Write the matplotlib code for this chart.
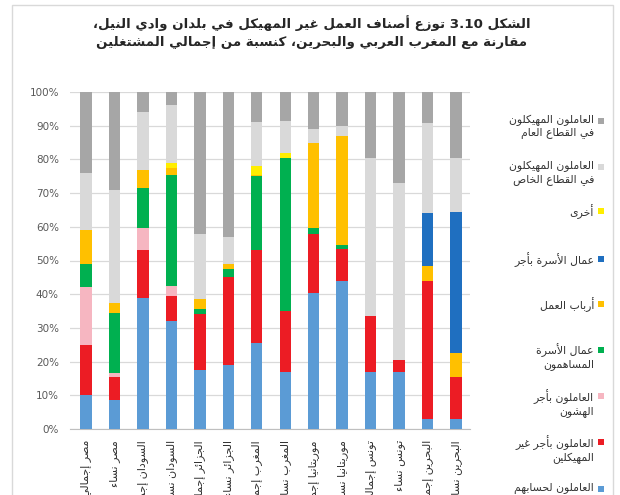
import re
import numpy as np
import matplotlib
matplotlib.use("Agg")
import matplotlib.pyplot as plt
from matplotlib.patches import Rectangle

# ---------------- simple Arabic shaping (presentation forms + visual order) -------------
_tbl = [('\u0621', 0xFE80, 1), ('\u0622', 0xFE81, 2), ('\u0623', 0xFE83, 2), ('\u0624', 0xFE85, 2),
        ('\u0625', 0xFE87, 2), ('\u0626', 0xFE89, 4), ('\u0627', 0xFE8D, 2), ('\u0628', 0xFE8F, 4),
        ('\u0629', 0xFE93, 2), ('\u062A', 0xFE95, 4), ('\u062B', 0xFE99, 4), ('\u062C', 0xFE9D, 4),
        ('\u062D', 0xFEA1, 4), ('\u062E', 0xFEA5, 4), ('\u062F', 0xFEA9, 2), ('\u0630', 0xFEAB, 2),
        ('\u0631', 0xFEAD, 2), ('\u0632', 0xFEAF, 2), ('\u0633', 0xFEB1, 4), ('\u0634', 0xFEB5, 4),
        ('\u0635', 0xFEB9, 4), ('\u0636', 0xFEBD, 4), ('\u0637', 0xFEC1, 4), ('\u0638', 0xFEC5, 4),
        ('\u0639', 0xFEC9, 4), ('\u063A', 0xFECD, 4), ('\u0641', 0xFED1, 4), ('\u0642', 0xFED5, 4),
        ('\u0643', 0xFED9, 4), ('\u0644', 0xFEDD, 4), ('\u0645', 0xFEE1, 4), ('\u0646', 0xFEE5, 4),
        ('\u0647', 0xFEE9, 4), ('\u0648', 0xFEED, 2), ('\u0649', 0xFEEF, 2), ('\u064A', 0xFEF1, 4)]
FORMS = {c: tuple(chr(b + k) for k in range(n)) for c, b, n in _tbl}
LAMALEF = {'\u0622': 0xFEF5, '\u0623': 0xFEF7, '\u0625': 0xFEF9, '\u0627': 0xFEFB}


def _dual(c):
    return c in FORMS and len(FORMS[c]) == 4


def _joinable(c):
    return c in FORMS and len(FORMS[c]) >= 2


def _shape_line(s):
    chars = [ch for ch in s if not ('\u064B' <= ch <= '\u0652')]
    n = len(chars)
    res = []
    i = 0
    while i < n:
        c = chars[i]
        prev = chars[i - 1] if i > 0 else ''
        jp = _joinable(c) and _dual(prev)
        if c == '\u0644' and i + 1 < n and chars[i + 1] in LAMALEF:
            base = LAMALEF[chars[i + 1]]
            res.append(chr(base + 1) if jp else chr(base))
            i += 2
            continue
        if c in FORMS:
            f = FORMS[c]
            nxt = chars[i + 1] if i + 1 < n else ''
            jn = _dual(c) and _joinable(nxt)
            if len(f) == 4:
                idx = {(False, False): 0, (True, False): 1, (False, True): 2, (True, True): 3}[(jp, jn)]
            elif len(f) == 2:
                idx = 1 if jp else 0
            else:
                idx = 0
            res.append(f[idx])
        else:
            res.append(c)
        i += 1
    vis = ''.join(res)[::-1]
    vis = re.sub(r'[0-9A-Za-z.%]+', lambda m: m.group(0)[::-1], vis)
    return vis


def ar(s):
    return '\n'.join(_shape_line(l) for l in s.split('\n'))


# ---------------- data -------------------------------------------------------------------
categories = ["مصر إجمالي", "مصر نساء", "السودان إجمالي", "السودان نساء",
              "الجزائر إجمالي", "الجزائر نساء", "المغرب إجمالي", "المغرب نساء",
              "موريتانيا إجمالي", "موريتانيا نساء", "تونس إجمالي", "تونس نساء",
              "البحرين إجمالي", "البحرين نساء"]

# stacked from bottom to top
own_account = [10, 8.5, 39, 32, 17.5, 19, 25.5, 17, 40.5, 44, 17, 17, 3, 3]
wage_informal = [15, 7, 14, 7.5, 16.5, 26, 27.5, 18, 17.5, 9.5, 16.5, 3.5, 41, 12.5]
wage_vulnerable = [17, 1, 6.5, 3, 0, 0, 0, 0, 0, 0, 0, 0, 0, 0]
family_contrib = [7, 18, 12, 33, 1.5, 2.5, 22, 45.5, 1.5, 1, 0, 0, 0, 0]
employers = [10, 3, 5.5, 2, 3, 1.5, 0.5, 0, 25.5, 32.5, 0, 0, 4.5, 7]
family_paid = [0, 0, 0, 0, 0, 0, 0, 0, 0, 0, 0, 0, 15.5, 42]
other = [0, 0, 0, 1.5, 0, 0, 2.5, 1.5, 0, 0, 0, 0, 0, 0]
formal_private = [17, 33.5, 17, 17, 19.5, 8, 13, 9.5, 4, 3, 47, 52.5, 26.7, 16]
formal_public = [24, 29, 6, 4, 42, 43, 9, 9, 11, 10, 19.5, 27, 9.3, 19.5]

series_labels = ["العاملون لحسابهم", "العاملون بأجر غير\nالمهيكلين", "العاملون بأجر\nالهشون",
                 "عمال الأسرة\nالمساهمون", "أرباب العمل", "عمال الأسرة بأجر", "أخرى",
                 "العاملون المهيكلون\nفي القطاع الخاص", "العاملون المهيكلون\nفي القطاع العام"]
series_values = [own_account, wage_informal, wage_vulnerable, family_contrib, employers,
                 family_paid, other, formal_private, formal_public]
colors = ["#5B9BD5", "#EC1C24", "#F6B6C1", "#00B050", "#FFC000",
          "#1F6FC0", "#FFEE00", "#D9D9D9", "#A6A6A6"]

yticks = [0, 10, 20, 30, 40, 50, 60, 70, 80, 90, 100]
ytick_labels = [f"{v}%" for v in yticks]

title = "الشكل 3.10 توزع أصناف العمل غير المهيكل في بلدان وادي النيل،\nمقارنة مع المغرب العربي والبحرين، كنسبة من إجمالي المشتغلين"

# ---------------- figure -----------------------------------------------------------------
plt.rcParams['font.family'] = ['DejaVu Sans']
W, H = 620, 495
fig = plt.figure(figsize=(W / 100, H / 100), dpi=100)
fig.patch.set_facecolor("white")

# outer frame
fig.add_artist(Rectangle((12 / W, -0.1), (613 - 12) / W, (H - 5) / H + 0.1, transform=fig.transFigure,
                         fill=False, edgecolor="#D9D9D9", linewidth=1.0))

ax = fig.add_axes([70 / W, (H - 429) / H, 400 / W, (429 - 92) / H])
x = np.arange(len(categories))
bottom = np.zeros(len(categories))
for vals, col in zip(series_values, colors):
    v = np.array(vals, dtype=float)
    ax.bar(x, v, bottom=bottom, width=0.4, color=col, linewidth=0, zorder=3)
    bottom += v

ax.set_ylim(0, 100)
ax.set_xlim(-0.562, 13.49)
ax.set_yticks(yticks)
ax.set_yticklabels(ytick_labels, fontsize=7.5, color="#595959")
ax.yaxis.grid(True, color="#D9D9D9", linewidth=0.9, zorder=0)
ax.set_axisbelow(True)
for s in ["top", "right", "left"]:
    ax.spines[s].set_visible(False)
ax.spines["bottom"].set_color("#BFBFBF")
ax.tick_params(axis="both", length=0)
ax.tick_params(axis="y", pad=8)
ax.set_xticks(x)
ax.set_xticklabels([ar(c) for c in categories], rotation=90, fontsize=8, color="#333333",
                   va="top", ha="center")
ax.tick_params(axis="x", pad=8)

# title
fig.text(312 / W, 1 - 32 / H, ar(title), ha="center", va="center", fontsize=9.6,
         fontweight="bold", color="#262626", linespacing=1.45)

# legend (manual, right side, RTL)
leg_y = [121, 167, 211, 259, 304, 350, 396, 442, 489]
leg_order = [8, 7, 6, 5, 4, 3, 2, 1, 0]
for yy, k in zip(leg_y, leg_order):
    fig.add_artist(Rectangle(((598) / W, 1 - (yy + 3) / H), 6 / W, 6 / H, transform=fig.transFigure,
                             facecolor=colors[k], edgecolor="none"))
    fig.text(594 / W, 1 - (yy - 6.5) / H, ar(series_labels[k]), ha="right", va="top",
             fontsize=7.8, color="#333333", linespacing=1.25, multialignment="right")

fig.savefig("out.png", dpi=100)
